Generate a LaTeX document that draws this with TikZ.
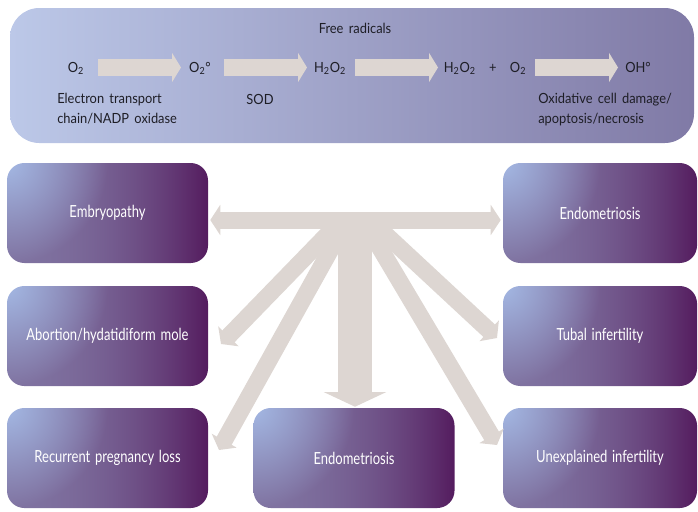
\documentclass[tikz,border=0pt]{standalone}
\usepackage{fontspec}
\setmainfont{Lato}[FakeStretch=0.78, WordSpace=1.4]
\newfontfamily\bandfont{Lato}[FakeStretch=0.92, WordSpace=1.6]
\usetikzlibrary{arrows.meta}
\definecolor{bandleft}{RGB}{188,200,232}
\definecolor{bandright}{RGB}{128,122,166}
\definecolor{beige}{RGB}{221,214,210}
\definecolor{inktext}{RGB}{30,30,38}
\pgfdeclarefunctionalshading{boxglow}{\pgfpoint{-50bp}{-50bp}}{\pgfpoint{50bp}{50bp}}{}{
	25 exch sub 50 div exch 25 add 50 div
	2 copy dup mul 4 mul exch dup mul add sqrt 1 exch sub
	dup 0 lt {pop 0} if
	exch dup mul 3 -1 roll pop
	dup -0.17 mul 0.50 add 2 index 1 exch sub mul 2 index 0.64 mul add 3 1 roll
	dup -0.34 mul 0.45 add 2 index 1 exch sub mul 2 index 0.72 mul add 3 1 roll
	-0.26 mul 0.63 add 1 index 1 exch sub mul exch 0.89 mul add
}
\tikzset{
	disease/.style={shade, shading=boxglow, rounded corners=13pt, minimum width=150.75pt, minimum height=75pt, inner sep=0pt, text=white, font=\fontsize{12.5}{14}\selectfont},
	formula/.style={inner sep=0pt, text=inktext, font=\bandfont\fontsize{10.5}{14.5}\selectfont},
	bandarrow/.style={draw=beige, line width=12.75pt, -{Triangle[width=21.75pt,length=6.75pt]}},
	crossbar/.style={draw=beige, line width=12.75pt, shorten <=1.5pt, shorten >=1.5pt, {Triangle[width=22.5pt,length=7.5pt]}-{Triangle[width=22.5pt,length=7.5pt]}},
	spoke/.style={draw=beige, line width=12.75pt, shorten <=16pt, -{Triangle[width=21pt,length=8pt]}},
	trunk/.style={draw=beige, line width=25.5pt, shorten <=12pt, shorten >=0.75pt, -{Triangle[width=46.5pt,length=11pt]}}
}
\begin{document}
\begin{tikzpicture}[x=0.75pt,y=-0.75pt]
			\useasboundingbox (0,0) rectangle (698,511);
			\node	(band) at (352,75.5) [rounded corners=22pt, left color=bandleft, right color=bandright, minimum width=513pt, minimum height=101.25pt] {};
			\node	(title) at (355,33) [formula, anchor=base] {Free radicals};
			\node	(oxy) at (76,72) [formula, anchor=base] {O\textsubscript{2}};
			\node	(super) at (200,72) [formula, anchor=base] {O\textsubscript{2}°};
			\node	(perox) at (330,72) [formula, anchor=base] {H\textsubscript{2}O\textsubscript{2}};
			\node	(split) at (485,72) [formula, anchor=base] {H\textsubscript{2}O\textsubscript{2}\hspace{10pt}+\hspace{10pt}O\textsubscript{2}};
			\node	(hydrox) at (638,72) [formula, anchor=base] {OH°};
			\node	(source) at (57,123) [formula, anchor=base west, align=left] {Electron transport\\chain/NADP oxidase};
			\node	(sod) at (260,104) [formula, anchor=base] {SOD};
			\node	(damage) at (538,123) [formula, anchor=base west, align=left] {Oxidative cell damage/\\apoptosis/necrosis};
			\coordinate	(a1) at (98,67.5);
			\coordinate	(b1) at (181,67.5);
			\coordinate	(a2) at (224,67.5);
			\coordinate	(b2) at (307,67.5);
			\coordinate	(a3) at (355,67.5);
			\coordinate	(b3) at (438,67.5);
			\coordinate	(a4) at (535,67.5);
			\coordinate	(b4) at (618,67.5);
			\node	(embryo) at (107.5,213) [disease] {Embryopathy};
			\node	(abort) at (107.5,336) [disease] {Abortion/hydatidiform mole};
			\node	(recur) at (107.5,458) [disease] {Recurrent pregnancy loss};
			\node	(endob) at (354,458) [disease] {Endometriosis};
			\node	(endoa) at (600,213) [disease, minimum width=145.5pt] {Endometriosis};
			\node	(tubal) at (600,336) [disease, minimum width=145.5pt] {Tubal infertility};
			\node	(unexp) at (600,458) [disease, minimum width=145.5pt] {Unexplained infertility};
			\coordinate	(hub) at (355,206);
			\coordinate	(axis) at (355,220);
			\coordinate	(tipab) at (221,344);
			\coordinate	(tiprc) at (219,450);
			\coordinate	(tiptb) at (497,338);
			\coordinate	(tipun) at (497,445);
			\draw 
			(a1) edge[bandarrow] (b1)
			(a2) edge[bandarrow] (b2)
			(a3) edge[bandarrow] (b3)
			(a4) edge[bandarrow] (b4)
			(hub) edge[spoke] (tipab)
			(hub) edge[spoke] (tiprc)
			(hub) edge[spoke] (tiptb)
			(hub) edge[spoke] (tipun)
			(hub) edge[trunk] (hub |- endob.north)
			(embryo.east |- axis) edge[crossbar] (endoa.west |- axis)
			;
		\end{tikzpicture}
\end{document}
